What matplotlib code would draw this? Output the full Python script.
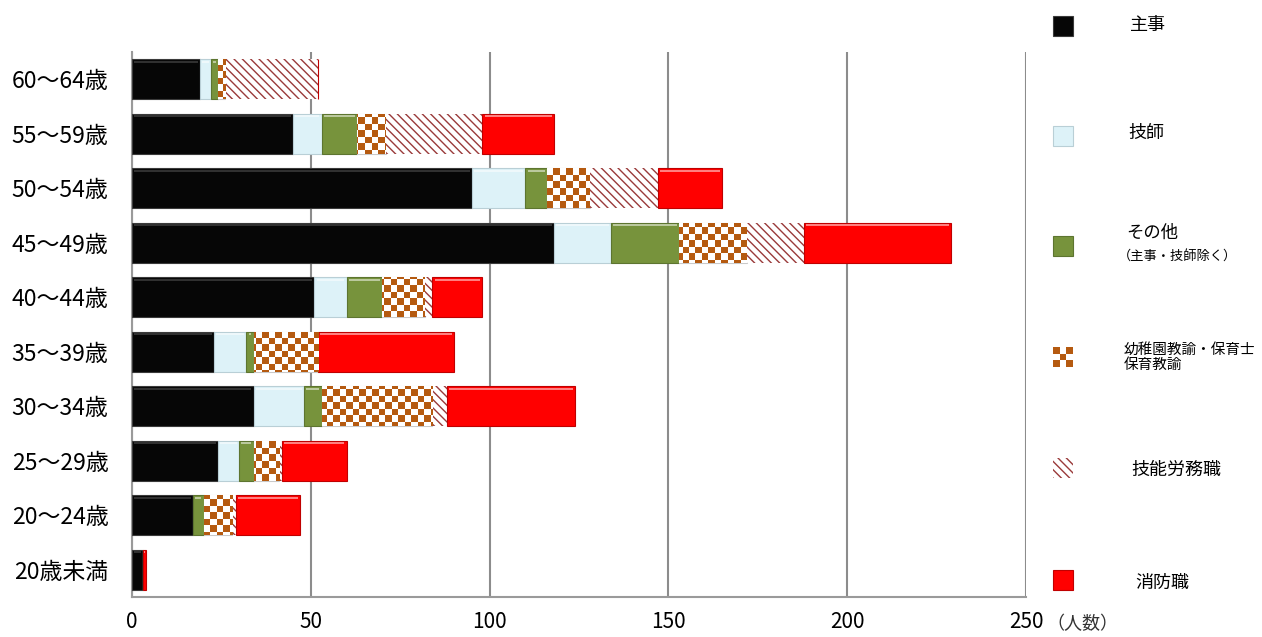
import numpy as np
import matplotlib
matplotlib.use("Agg")
import matplotlib.pyplot as plt
from matplotlib.patches import Rectangle

plt.rcParams['font.family'] = ['Noto Sans CJK JP', 'DejaVu Sans']
plt.rcParams['hatch.linewidth'] = 1.0

# 年齢階層（上から下の順）
age_groups = ['60～64歳', '55～59歳', '50～54歳', '45～49歳', '40～44歳',
              '35～39歳', '30～34歳', '25～29歳', '20～24歳', '20歳未満']

# 職種別人数
shuji = [19, 45, 95, 118, 51, 23, 34, 24, 17, 3]
gishi = [3, 8, 15, 16, 9, 9, 14, 6, 0, 0]
sonota = [2, 10, 6, 19, 10, 2, 5, 4, 3, 0]
youchien = [2, 8, 12, 19, 12, 18, 31, 7, 8, 0]
ginou = [26, 27, 19, 16, 2, 0, 4, 1, 1, 0]
shoubou = [0, 20, 18, 41, 14, 38, 36, 18, 18, 1]

series_names = ['主事', '技師', 'その他', '幼稚園教諭・保育士\n保育教諭', '技能労務職', '消防職']
xticks = [0, 50, 100, 150, 200, 250]

series = [shuji, gishi, sonota, youchien, ginou, shoubou]
face = ['#060606', '#DDF2F8', '#77933C', 'white', 'white', '#FF0000']
edge = ['#3a3a3a', '#b9cfd6', '#5d7530', '#c9c9c9', '#c9c9c9', '#c00000']
HATCH_RED = '#9A3A3A'
CHECK = '#B55A10'

fig = plt.figure(figsize=(12.62, 6.37), dpi=100)
ax = fig.add_axes([132 / 1262, 1 - 597 / 637, (1026 - 132) / 1262, (597 - 52) / 637])

y = np.arange(len(age_groups))
bar_h = 0.73
ax.set_ylim(len(age_groups) - 0.5, -0.5)
ax.set_xlim(0, 250)

# チェック柄の元画像
ncx, ncy = 138, 84
checker = (np.add.outer(np.arange(ncy), np.arange(ncx)) % 2).astype(float)
checker_rgb = np.ones((ncy, ncx, 3))
cc = np.array(matplotlib.colors.to_rgb(CHECK))
checker_rgb[checker == 1] = cc

left = np.zeros(len(age_groups))
for k, vals in enumerate(series):
    vals = np.array(vals, dtype=float)
    if k == 4:
        bars = ax.barh(y, vals, left=left, height=bar_h, color='white',
                       edgecolor=HATCH_RED, linewidth=0, hatch='\\\\\\\\', zorder=3)
    else:
        bars = ax.barh(y, vals, left=left, height=bar_h, color=face[k],
                       edgecolor=edge[k], linewidth=0.8, zorder=3)
    if k == 3:
        for b, v in zip(bars, vals):
            if v <= 0:
                continue
            im = ax.imshow(checker_rgb, extent=[0, 250, len(age_groups) - 0.5, -0.5],
                           aspect='auto', interpolation='nearest', zorder=3.5)
            im.set_clip_path(b)
    # 上辺のハイライト
    for b, v in zip(bars, vals):
        if v <= 0 or k in (3, 4):
            continue
        x0 = b.get_x()
        hl = '#5a5a5a' if k == 0 else 'white'
        ax.plot([x0 + 0.6, x0 + v - 0.6], [b.get_y() + 0.04] * 2, color=hl,
                lw=1.2, alpha=0.6, zorder=4, solid_capstyle='butt')
    left += vals

ax.set_xticks(xticks)
ax.set_xticklabels([str(t) for t in xticks], fontsize=15)
ax.set_yticks(y)
ax.set_yticklabels(age_groups, fontsize=16.5)
ax.tick_params(axis='y', length=0, pad=17)
ax.tick_params(axis='x', length=0, pad=10)
ax.grid(axis='x', color='#8c8c8c', linewidth=1.5, zorder=0)
for s in ['top', 'right']:
    ax.spines[s].set_visible(False)
for s in ['left', 'bottom']:
    ax.spines[s].set_color('#9a9a9a')
    ax.spines[s].set_linewidth(1.5)

fig.text(1046 / 1262, 1 - 624 / 637, '（人数）', fontsize=13, va='center', ha='left', color='#333333')

# 凡例
box_y = [26, 136, 246, 357, 468, 580]
txt_y = [25, 133, 233, 357, 470, 583]
txt_x = [1130, 1128, 1126, 1124, 1131, 1135]
for i, ly in enumerate(box_y):
    rx, ry = 1053 / 1262, 1 - (ly + 10) / 637
    w, h = 20 / 1262, 20 / 637
    if i == 4:
        r = Rectangle((rx, ry), w, h, transform=fig.transFigure, facecolor='white',
                      edgecolor=HATCH_RED, linewidth=0, hatch='\\\\\\\\')
        fig.add_artist(r)
    elif i == 3:
        fig.add_artist(Rectangle((rx, ry), w, h, transform=fig.transFigure,
                                 facecolor='white', linewidth=0))
        for a in range(3):
            for b in range(3):
                if (a + b) % 2 == 0:
                    fig.add_artist(Rectangle((rx + a * w / 3, ry + b * h / 3), w / 3, h / 3,
                                             transform=fig.transFigure, facecolor=CHECK,
                                             linewidth=0))
    else:
        fig.add_artist(Rectangle((rx, ry), w, h, transform=fig.transFigure,
                                 facecolor=face[i], edgecolor=edge[i], linewidth=0.8))
    tx = txt_x[i] / 1262
    if i == 2:
        fig.text(tx, 1 - 233 / 637, 'その他', fontsize=12.5, va='center', ha='left')
        fig.text(tx - 8 / 1262, 1 - 256 / 637, '（主事・技師除く）', fontsize=9.5,
                 va='center', ha='left')
    elif i == 3:
        fig.text(tx, 1 - txt_y[i] / 637, series_names[i], fontsize=10.5, va='center',
                 ha='left', linespacing=1.1)
    else:
        fig.text(tx, 1 - txt_y[i] / 637, series_names[i], fontsize=13, va='center', ha='left')

fig.savefig('out.png', dpi=100, facecolor='white')
